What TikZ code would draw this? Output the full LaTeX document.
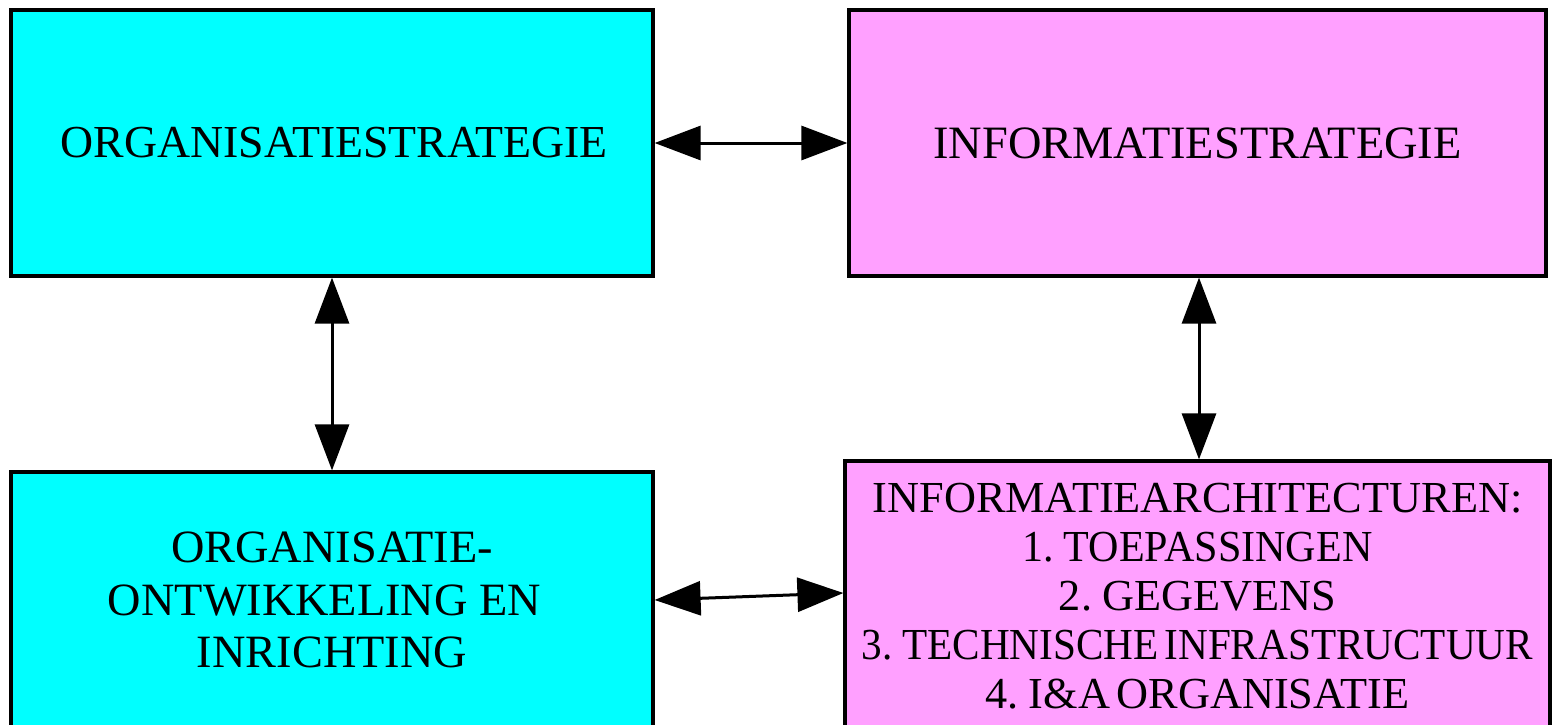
\documentclass[tikz,border=0pt]{standalone}
\usepackage{fontspec}
\usepackage{graphicx}
\setmainfont{Liberation Serif}
\usetikzlibrary{arrows.meta}
\definecolor{orgcyan}{RGB}{0,255,255}
\definecolor{infopink}{RGB}{255,160,255}
\newcommand\tightwordspace{\spaceskip=6.5pt\relax}
\tikzset{
  block/.style={draw=black, line width=3.2pt, rectangle, inner sep=0pt,
    align=center, text=black},
  orgblock/.style={block, fill=orgcyan},
  infoblock/.style={block, fill=infopink},
  link/.style={line width=3pt, draw=black,
    {Triangle[length=46pt,width=34pt]}-{Triangle[length=46pt,width=34pt]}},
}
\begin{document}
\begin{tikzpicture}[x=1pt, y=-1pt]
  \useasboundingbox (0,0) rectangle (1552,725);
  \fill[white] (0,0) rectangle (1552,725);
  \clip (0,0) rectangle (1552,725);

  % strategy level
  \node[orgblock, minimum width=642pt, minimum height=266pt,
        font=\fontsize{45.8}{49}\selectfont] (orgstrat) at (332,143)
        {\makebox[4pt]{}ORGANISATIESTRATEGIE};
  \node[infoblock, minimum width=697pt, minimum height=266pt,
        font=\fontsize{46.4}{49}\selectfont] (infostrat) at (1197.5,143)
        {INFORMATIESTRATEGIE};

  % realisation level
  \node[orgblock, minimum width=642pt, minimum height=256pt,
        font=\fontsize{46.3}{52.5}\selectfont] (orgdev) at (332,600)
        {ORGANISATIE-\\ONTWIKKELING EN\makebox[15pt]{}\\INRICHTING};
  \node[infoblock, minimum width=705pt, minimum height=270pt,
        font=\fontsize{44.3}{49}\selectfont] (infoarch) at (1197.5,596)
        {\tightwordspace INFORMATIEARCHITECTUREN:\\
         \scalebox{0.95}[1]{\tightwordspace 1. TOEPASSINGEN}\\
         \tightwordspace 2. GEGEVENS\\
         \scalebox{0.93}[1]{\tightwordspace 3. TECHNISCHE INFRASTRUCTUUR}\\
         \tightwordspace 4. I\&A ORGANISATIE};

  % relations
  \draw[link] (orgstrat.east) -- (infostrat.west);
  \draw[link] (orgstrat.south) -- (orgdev.north);
  \draw[link] ([xshift=1.5pt]infostrat.south) -- ([xshift=1.5pt]infoarch.north);
  \draw[link] (orgdev.east) -- ([yshift=3pt]infoarch.west);
\end{tikzpicture}
\end{document}
